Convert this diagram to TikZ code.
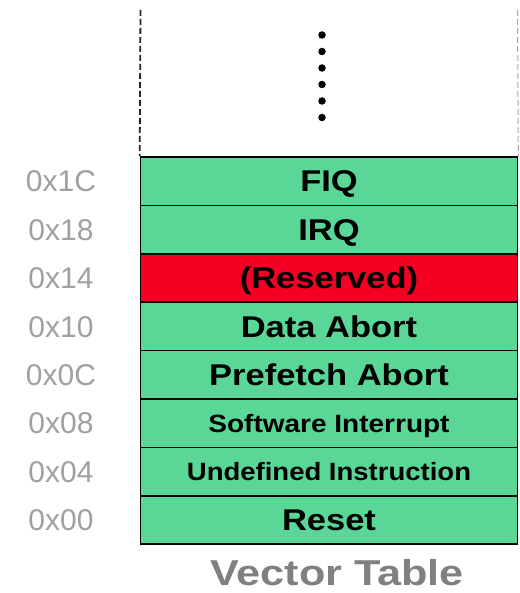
\documentclass[tikz,border=0pt]{standalone}
\usepackage{fontspec}
\setmainfont{Liberation Sans}
\definecolor{vgreen}{RGB}{90,214,150}
\definecolor{vred}{RGB}{244,0,36}
\definecolor{lblgray}{RGB}{160,160,160}
\definecolor{ttlgray}{RGB}{128,128,128}
\tikzset{
  vrow/.style={draw=black, line width=1.6pt, fill=vgreen, minimum width=377pt,
    minimum height=48.4pt, inner sep=0pt, anchor=center, text depth=0pt},
  big/.style={font=\fontsize{30}{34}\selectfont\bfseries, text height=21.5pt},
  small/.style={font=\fontsize{25}{30}\selectfont\bfseries, text height=17.9pt},
  addr/.style={font=\fontsize{30}{34}\selectfont, text=lblgray, anchor=center, text height=21.5pt, text depth=0pt, inner sep=0pt},
  vdash/.style={line width=1.8pt, dash pattern=on 6pt off 3pt},
  vdot/.style={circle, fill=black, inner sep=0pt, minimum size=7.5pt}
}
\newcommand{\sx}[2]{\scalebox{#1}[1]{#2}}
\begin{document}
\begin{tikzpicture}[x=1pt,y=-1pt]
\useasboundingbox (0,0) rectangle (519,593);
% rows
\node[vrow, big] (fiq) at (329,181.2) {\sx{1.15}{FIQ}};
\node[vrow, big] (irq) at (329,229.6) {\sx{1.15}{IRQ}};
\node[vrow, big, fill=vred] (res) at (329,278.0) {\sx{1.15}{(Reserved)}};
\node[vrow, big] (dab) at (329,326.4) {\sx{1.15}{Data Abort}};
\node[vrow, big] (pab) at (329,374.8) {\sx{1.15}{Prefetch Abort}};
\node[vrow, small] (swi) at (329,423.2) {\sx{1.12}{Software Interrupt}};
\node[vrow, small] (und) at (329,471.6) {\sx{1.10}{Undefined Instruction}};
\node[vrow, big] (rst) at (329,520.0) {\sx{1.15}{Reset}};
% addresses
\node[addr] (a1c) at (61,181.2) {0x1C};
\node[addr] (a18) at (61,229.6) {0x18};
\node[addr] (a14) at (61,278.0) {0x14};
\node[addr] (a10) at (61,326.4) {0x10};
\node[addr] (a0c) at (61,374.8) {0x0C};
\node[addr] (a08) at (61,423.2) {0x08};
\node[addr] (a04) at (61,471.6) {0x04};
\node[addr] (a00) at (61,520.0) {0x00};
% dashed sides
\coordinate (lt) at (140.5,10);
\coordinate (rt) at (517.5,10);
\draw[vdash, black!85] (lt) -- (fiq.north west);
\draw[vdash, gray!70, line width=1pt] (rt) -- (fiq.north east);
% dots
\foreach \i/\yy in {1/35,2/51.5,3/68,4/84.5,5/101,6/117.5}
  \node[vdot] (d\i) at (322,\yy) {};
% title
\node[font=\fontsize{36}{40}\selectfont\bfseries, text=ttlgray, text height=25.8pt, text depth=0pt, inner sep=0pt] (title) at (337,573) {\sx{1.2}{Vector Table}};
\end{tikzpicture}
\end{document}
